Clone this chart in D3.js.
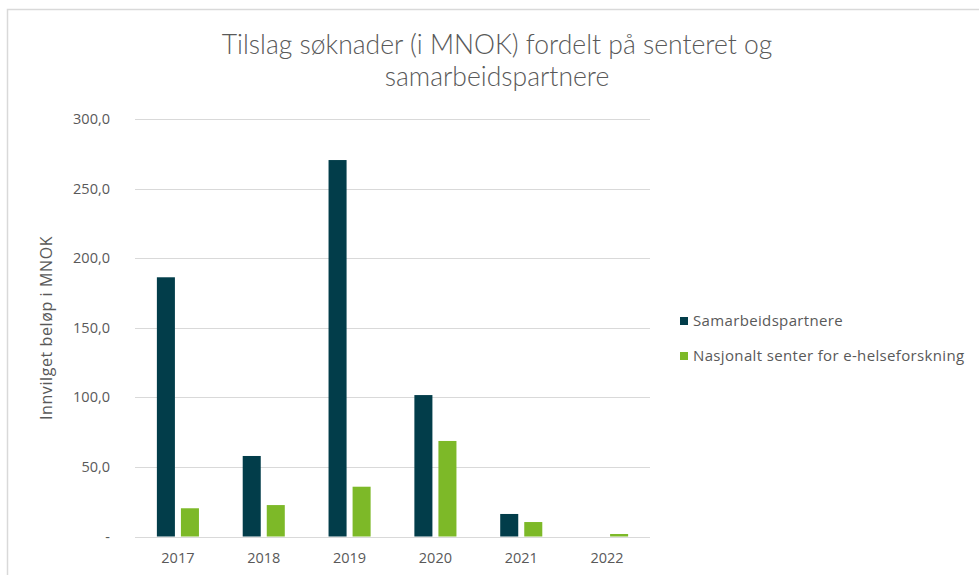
<!DOCTYPE html>
<html><head><meta charset="utf-8">
<script src="https://cdn.jsdelivr.net/npm/d3@7"></script>
<style>body{margin:0;background:#fff}svg{display:block}</style>
</head><body>
<script>
const years = ["2017","2018","2019","2020","2021","2022"];
const seriesNames = ["Samarbeidspartnere","Nasjonalt senter for e-helseforskning"];
const samarbeid = [186.4, 57.9, 270.7, 101.7, 16.2, 0];
const senter = [20.3, 22.6, 35.8, 68.7, 10.4, 1.8];
const yTicks = [0, 50, 100, 150, 200, 250, 300];
const colors = ["#023d4a", "#7db928"];
const titleLines = ["Tilslag søknader (i MNOK) fordelt på senteret og", "samarbeidspartnere"];
const yLabel = "Innvilget beløp i MNOK";

const W = 979, H = 575;
const font = "'Open Sans', sans-serif";
const titleFont = "Lato, 'Open Sans', sans-serif";
const svg = d3.select("body").append("svg").attr("width", W).attr("height", H);

// frame
svg.append("path").attr("d", `M7.5,${H} V9.5 H${W}`).attr("fill","none").attr("stroke","#d9d9d9").attr("stroke-width",1.5);

const x0 = d3.scaleBand().domain(years).range([135, 650]).padding(0);
const x1 = d3.scaleBand().domain(seriesNames).range([0, x0.bandwidth()]).paddingInner(0.25).paddingOuter(0.91);
const y = d3.scaleLinear().domain([0, 300]).range([536.5, 119.3]);

// grid
svg.append("g").selectAll("line").data(yTicks).join("line")
  .attr("x1", 135).attr("x2", 650)
  .attr("y1", d => Math.round(y(d)) + 0.5).attr("y2", d => Math.round(y(d)) + 0.5)
  .attr("stroke", "#d9d9d9").attr("stroke-width", 1);

// y tick labels
svg.append("g").selectAll("text").data(yTicks).join("text")
  .attr("x", 110).attr("y", d => y(d) + 5)
  .attr("text-anchor", "end").attr("font-family", font).attr("font-size", 14.5).attr("fill", "#595959")
  .text(d => d === 0 ? "-" : d3.format(".1f")(d).replace(".", ","));

// bars
const data = years.map((yr, i) => ({ year: yr, vals: [samarbeid[i], senter[i]] }));
const groups = svg.append("g").selectAll("g").data(data).join("g")
  .attr("transform", d => `translate(${x0(d.year)},0)`);
groups.selectAll("rect").data(d => d.vals.map((v, j) => ({ v, s: seriesNames[j], j })))
  .join("rect")
  .attr("x", d => x1(d.s)).attr("width", x1.bandwidth())
  .attr("y", d => y(d.v)).attr("height", d => y(0) - y(d.v))
  .attr("fill", d => colors[d.j]);

// x labels
svg.append("g").selectAll("text").data(years).join("text")
  .attr("x", d => x0(d) + x0.bandwidth() / 2).attr("y", 563)
  .attr("text-anchor", "middle").attr("font-family", font).attr("font-size", 14.5).attr("fill", "#595959")
  .text(d => d);

// y axis label
svg.append("text")
  .attr("transform", "translate(52,328) rotate(-90)")
  .attr("text-anchor", "middle").attr("font-family", font).attr("font-size", 16).attr("letter-spacing", 0.6).attr("fill", "#595959")
  .text(yLabel);

// title
svg.append("g").selectAll("text").data(titleLines).join("text")
  .attr("x", 497).attr("y", (d, i) => 54 + i * 32)
  .attr("text-anchor", "middle").attr("font-family", titleFont).attr("font-weight", 300).attr("font-size", 26.5).attr("fill", "#595959")
  .text(d => d);

// legend
const leg = svg.append("g").selectAll("g").data(seriesNames).join("g")
  .attr("transform", (d, i) => `translate(680,${321 + i * 35})`);
leg.append("rect").attr("x", 0).attr("y", -4).attr("width", 8).attr("height", 8).attr("fill", (d, i) => colors[i]);
leg.append("text").attr("x", 13).attr("y", 5).attr("font-family", font).attr("font-size", 15).attr("letter-spacing", 0.35).attr("fill", "#595959").text(d => d);
</script>
</body></html>
